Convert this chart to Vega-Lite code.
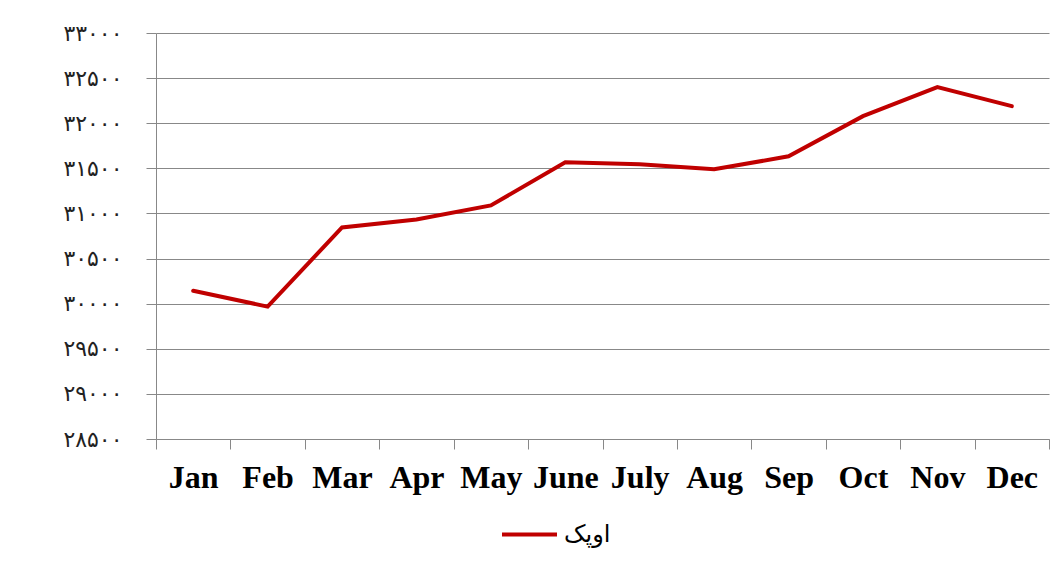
{
  "$schema": "https://vega.github.io/schema/vega-lite/v6.json",
  "width": 893,
  "height": 406,
  "autosize": {"type": "none"},
  "padding": {"left": 156, "top": 33, "right": 5, "bottom": 130},
  "background": "white",
  "config": {"view": {"stroke": null}},
  "data": {
    "values": [
      {"month": "Jan", "value": 30144, "series": "اوپک"},
      {"month": "Feb", "value": 29967, "series": "اوپک"},
      {"month": "Mar", "value": 30845, "series": "اوپک"},
      {"month": "Apr", "value": 30933, "series": "اوپک"},
      {"month": "May", "value": 31089, "series": "اوپک"},
      {"month": "June", "value": 31567, "series": "اوپک"},
      {"month": "July", "value": 31545, "series": "اوپک"},
      {"month": "Aug", "value": 31489, "series": "اوپک"},
      {"month": "Sep", "value": 31633, "series": "اوپک"},
      {"month": "Oct", "value": 32078, "series": "اوپک"},
      {"month": "Nov", "value": 32400, "series": "اوپک"},
      {"month": "Dec", "value": 32189, "series": "اوپک"}
    ]
  },
  "mark": {"type": "line", "strokeWidth": 4, "strokeCap": "round", "strokeJoin": "miter"},
  "encoding": {
    "x": {
      "field": "month",
      "type": "nominal",
      "sort": null,
      "bandPosition": 0.5,
      "scale": {"type": "band", "paddingInner": 0, "paddingOuter": 0},
      "axis": {
        "title": null,
        "labelAngle": 0,
        "labelFont": "Liberation Serif",
        "labelFontWeight": "bold",
        "labelFontSize": 32,
        "labelColor": "#000000",
        "labelPadding": 13,
        "tickBand": "extent",
        "tickSize": 10,
        "tickColor": "#888888",
        "domainColor": "#888888",
        "grid": false
      }
    },
    "y": {
      "field": "value",
      "type": "quantitative",
      "scale": {"domain": [28500, 33000], "zero": false, "nice": false},
      "axis": {
        "title": null,
        "values": [28500, 29000, 29500, 30000, 30500, 31000, 31500, 32000, 32500, 33000],
        "labelExpr": "replace(replace(replace(replace(replace(replace(replace(replace(replace(replace(format(datum.value,'d'),regexp('0','g'),'۰'),regexp('1','g'),'۱'),regexp('2','g'),'۲'),regexp('3','g'),'۳'),regexp('4','g'),'۴'),regexp('5','g'),'۵'),regexp('6','g'),'۶'),regexp('7','g'),'۷'),regexp('8','g'),'۸'),regexp('9','g'),'۹')",
        "labelFont": "DejaVu Sans",
        "labelFontSize": 22,
        "labelColor": "#222222",
        "labelPadding": 24,
        "tickSize": 10,
        "tickColor": "#888888",
        "domainColor": "#888888",
        "gridColor": "#888888",
        "gridWidth": 1
      }
    },
    "color": {
      "field": "series",
      "type": "nominal",
      "scale": {"range": ["#C00000"]},
      "legend": {
        "title": null,
        "orient": "none",
        "legendX": 344,
        "legendY": 472,
        "symbolType": "stroke",
        "symbolSize": 3025,
        "symbolStrokeWidth": 4,
        "labelFont": "DejaVu Sans",
        "labelFontSize": 24,
        "labelColor": "#000000",
        "labelOffset": 5
      }
    }
  }
}
